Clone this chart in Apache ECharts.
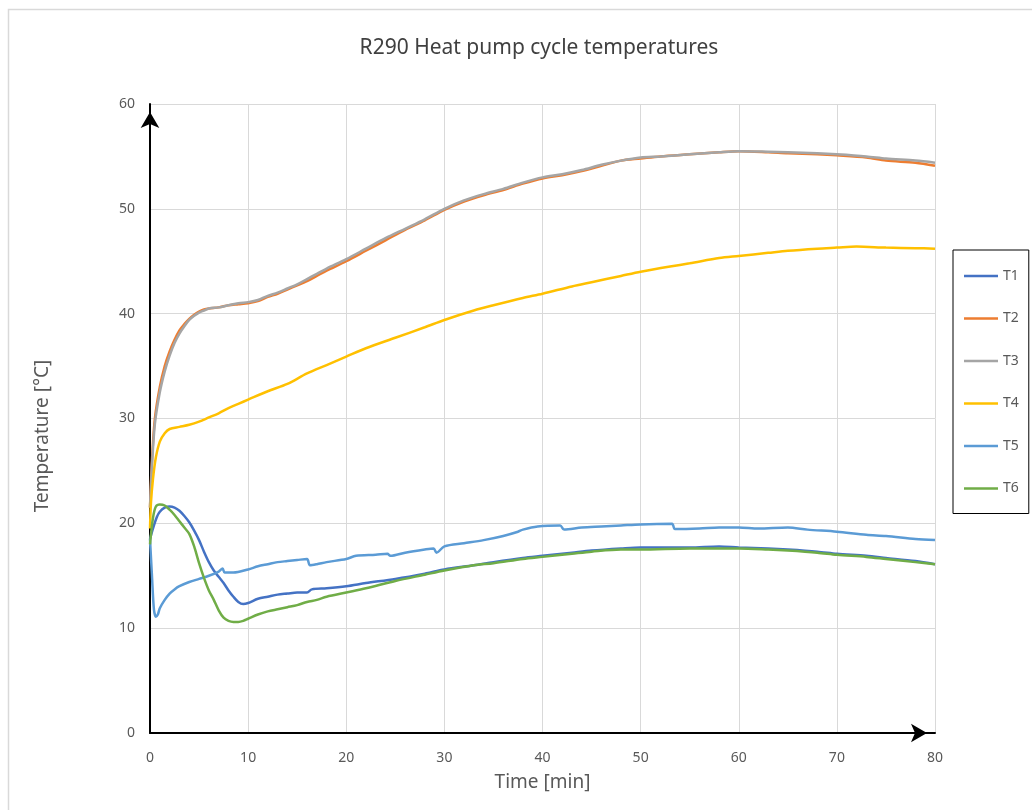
<!DOCTYPE html>
<html>
<head>
<meta charset="utf-8">
<title>R290 Heat pump cycle temperatures</title>
<script src="https://cdn.jsdelivr.net/npm/echarts@6/dist/echarts.min.js"></script>
<style>
  html, body { margin: 0; padding: 0; background: #fff; }
  #chart { width: 1032px; height: 810px; }
</style>
</head>
<body>
<div id="chart"></div>
<script>
// [time min, temperature °C]
var t1 = [[0,18.5],[0.3,19.5],[0.7,20.6],[1,21.1],[1.5,21.5],[2,21.6],[2.5,21.5],[3,21.2],[3.5,20.7],[4,20.1],[4.5,19.3],[5,18.4],[5.5,17.3],[6,16.3],[6.5,15.5],[7,14.9],[7.5,14.3],[8,13.6],[8.5,13.0],[9,12.5],[9.5,12.3],[10,12.4],[11,12.8],[12,13.0],[13,13.2],[14,13.3],[15,13.4],[16,13.4],[16.5,13.7],[18,13.8],[20,14.0],[22,14.3],[25,14.7],[28,15.2],[30,15.6],[33,16.0],[35,16.3],[38,16.7],[40,16.9],[43,17.2],[45,17.4],[48,17.6],[50,17.7],[55,17.7],[58,17.8],[60,17.7],[63,17.6],[65,17.5],[68,17.3],[70,17.1],[73,16.9],[75,16.7],[78,16.4],[80,16.1]];
var t2 = [[0,21.5],[0.2,26],[0.5,30],[1,33],[1.5,35],[2,36.4],[2.5,37.5],[3,38.4],[3.5,39.0],[4,39.5],[4.5,39.9],[5,40.2],[5.5,40.4],[6,40.5],[7,40.6],[8,40.8],[9,40.9],[10,41.0],[11,41.2],[12,41.6],[13,41.9],[14,42.3],[15,42.7],[16,43.1],[17,43.6],[18,44.1],[20,45.0],[22,46.0],[24,47.0],[26,48.0],[28,48.9],[30,49.9],[32,50.7],[34,51.3],[36,51.8],[38,52.4],[40,52.9],[42,53.2],[44,53.6],[46,54.1],[48,54.6],[50,54.8],[52,55.0],[55,55.2],[58,55.4],[60,55.5],[63,55.4],[65,55.3],[68,55.2],[70,55.1],[73,54.9],[75,54.6],[78,54.4],[80,54.1]];
var t3 = [[0,21.5],[0.2,25.5],[0.5,29.5],[1,32.5],[1.5,34.5],[2,36.0],[2.5,37.2],[3,38.1],[3.5,38.8],[4,39.4],[4.5,39.8],[5,40.1],[5.5,40.3],[6,40.5],[7,40.6],[8,40.8],[9,41.0],[10,41.1],[11,41.3],[12,41.7],[13,42.0],[14,42.4],[15,42.8],[16,43.3],[17,43.8],[18,44.3],[20,45.2],[22,46.2],[24,47.2],[26,48.1],[28,49.0],[30,50.0],[32,50.8],[34,51.4],[36,51.9],[38,52.5],[40,53.0],[42,53.3],[44,53.7],[46,54.2],[48,54.6],[50,54.9],[52,55.0],[55,55.2],[58,55.4],[60,55.5],[63,55.45],[65,55.4],[68,55.3],[70,55.2],[73,55.0],[75,54.8],[78,54.6],[80,54.4]];
var t4 = [[0,19.5],[0.1,22],[0.3,24.2],[0.6,26.3],[1,27.8],[1.5,28.6],[2,29.0],[3,29.2],[4,29.4],[5,29.7],[6,30.1],[7,30.5],[8,31.0],[9,31.4],[10,31.8],[12,32.6],[14,33.3],[16,34.3],[18,35.1],[20,35.9],[22,36.7],[25,37.7],[28,38.7],[30,39.4],[33,40.3],[35,40.8],[38,41.5],[40,41.9],[43,42.6],[45,43.0],[48,43.6],[50,44.0],[53,44.5],[55,44.8],[58,45.3],[60,45.5],[63,45.8],[65,46.0],[68,46.2],[70,46.3],[72,46.4],[75,46.3],[78,46.25],[80,46.2]];
var t5 = [[0,18.5],[0.2,15],[0.4,11.8],[0.6,11.1],[0.8,11.3],[1,11.9],[1.5,12.7],[2,13.3],[2.5,13.7],[3,14.0],[4,14.4],[5,14.7],[6,15.0],[7,15.4],[7.4,15.7],[7.6,15.3],[8.5,15.3],[10,15.6],[11,15.9],[12,16.1],[13,16.3],[14,16.4],[15,16.5],[16,16.6],[16.3,16.0],[17,16.1],[18,16.3],[20,16.6],[21,16.9],[23,17.0],[24.2,17.1],[24.5,16.9],[26,17.2],[28,17.5],[28.9,17.6],[29.2,17.2],[30,17.8],[32,18.1],[34,18.4],[36,18.8],[37.5,19.2],[38,19.4],[39.5,19.7],[41.8,19.8],[42.2,19.4],[44,19.6],[46,19.7],[48,19.8],[50,19.9],[53.2,19.95],[53.5,19.45],[56,19.5],[58,19.6],[60,19.6],[62,19.5],[65,19.6],[67,19.4],[70,19.2],[73,18.9],[75,18.8],[78,18.5],[80,18.4]];
var t6 = [[0,18.0],[0.3,20.5],[0.6,21.6],[1,21.8],[1.5,21.7],[2,21.3],[2.5,20.8],[3,20.2],[3.5,19.6],[4,19.0],[4.5,17.8],[5,16.2],[5.5,14.8],[6,13.6],[6.5,12.7],[7,11.7],[7.5,11.0],[8,10.7],[8.5,10.6],[9,10.6],[9.5,10.7],[10,10.9],[11,11.3],[12,11.6],[13,11.8],[14,12.0],[15,12.2],[16,12.5],[17,12.7],[18,13.0],[20,13.4],[22,13.8],[25,14.5],[28,15.1],[30,15.5],[33,16.0],[35,16.2],[38,16.6],[40,16.8],[43,17.1],[45,17.3],[48,17.5],[50,17.5],[55,17.6],[60,17.6],[63,17.5],[65,17.4],[68,17.2],[70,17.0],[73,16.8],[75,16.6],[78,16.3],[80,16.1]];

var seriesNames = ['T1', 'T2', 'T3', 'T4', 'T5', 'T6'];
var seriesData = [t1, t2, t3, t4, t5, t6];
var colors = ['#4472C4', '#ED7D31', '#A5A5A5', '#FFC000', '#5B9BD5', '#70AD47'];

var font = 'Noto Sans';
var grey = '#595959';

var myChart = echarts.init(document.getElementById('chart'));

var series = seriesNames.map(function (name, i) {
	return {
		name: name,
		type: 'line',
		data: seriesData[i],
		symbol: 'none',
		smooth: 0.3,
		color: colors[i],
		lineStyle: { width: 2.5, color: colors[i] }
	};
});

var option = {
	animation: false,
	backgroundColor: '#fff',
	graphic: [
		// light outer frame of the chart area
		{ type: 'rect', left: 6, top: 7, shape: { width: 1100, height: 900 },
		  style: { fill: 'none', stroke: '#d9d9d9', lineWidth: 1.5 } },
		{ type: 'text', x: 539, y: 48,
		  style: { text: 'R290 Heat pump cycle temperatures', fontFamily: font, fontSize: 21,
		           fill: '#404040', align: 'center', verticalAlign: 'middle' } },
		// y axis title sits a little below the plot centre in the reference
		{ type: 'text', x: 43, y: 436, rotation: Math.PI / 2,
		  style: { text: 'Temperature [°C]', fontFamily: font, fontSize: 19,
		           fill: grey, align: 'center', verticalAlign: 'middle' } }
	],
	legend: {
		orient: 'vertical',
		left: 953,
		top: 250,
		width: 74,
		padding: [19, 10, 18, 11],
		itemGap: 28.5,
		itemWidth: 34,
		itemHeight: 14,
		icon: 'path://M0,0 H13 V1 H0 Z',
		borderColor: '#000',
		borderWidth: 1,
		textStyle: { fontFamily: font, fontSize: 14, color: grey },
		data: seriesNames
	},
	grid: { left: 150, right: 97, top: 104, bottom: 77, containLabel: false },
	xAxis: {
		type: 'value',
		min: 0, max: 80, interval: 10,
		name: 'Time [min]',
		nameLocation: 'middle',
		nameGap: 40,
		nameTextStyle: { fontFamily: font, fontSize: 19, color: grey },
		axisLine: { lineStyle: { color: '#000', width: 2 }, symbol: ['none', 'arrow'], symbolSize: [14, 16], symbolOffset: [0, -8] },
		axisTick: { show: false },
		axisLabel: { margin: 18, fontFamily: font, fontSize: 14, color: grey },
		splitLine: { lineStyle: { color: '#d9d9d9', width: 1 } }
	},
	yAxis: {
		type: 'value',
		min: 0, max: 60, interval: 10,
		axisLine: { lineStyle: { color: '#000', width: 2 }, symbol: ['none', 'arrow'], symbolSize: [14, 16], symbolOffset: [0, -8] },
		axisTick: { show: false },
		axisLabel: { margin: 15, fontFamily: font, fontSize: 14, color: grey },
		splitLine: { lineStyle: { color: '#d9d9d9', width: 1 } }
	},
	series: series
};

myChart.setOption(option);
</script>
</body>
</html>
